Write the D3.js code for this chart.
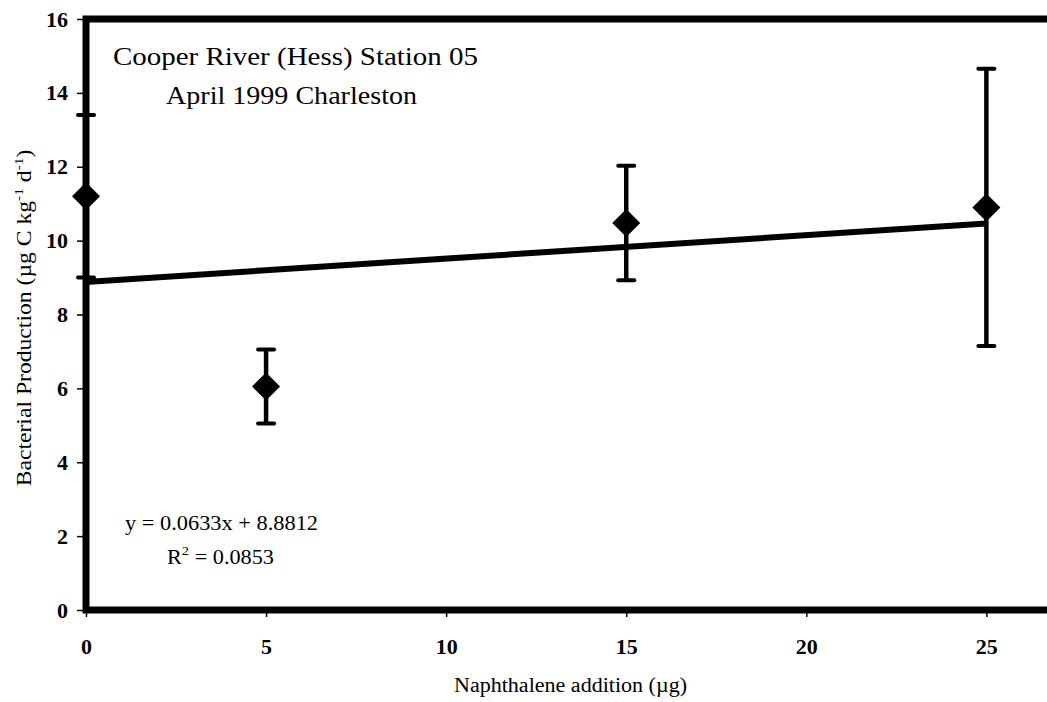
<!DOCTYPE html>
<html>
<head>
<meta charset="utf-8">
<script src="https://cdn.jsdelivr.net/npm/d3@7"></script>
<style>
  html, body { margin: 0; padding: 0; background: #fff; }
  svg { display: block; }
  text { font-family: "Liberation Serif", "Times New Roman", serif; fill: #000; }
</style>
</head>
<body>
<svg id="chart" width="1047" height="702"></svg>
<script>
// Naphthalene additions (µg) and bacterial production means with error half-widths
const additions   = [0, 5, 15, 25];
const production  = [11.2, 6.05, 10.48, 10.9];
const errorHalf   = [2.2, 1.0, 1.55, 3.75];

const xTicks = [0, 5, 10, 15, 20, 25];
const yTicks = [0, 2, 4, 6, 8, 10, 12, 14, 16];

// Linear fit reported on the chart
const fitSlope = 0.0633;
const fitIntercept = 8.8812;
const fitRange = [0, 25];

const svg = d3.select("#chart");
const plot = { left: 86, right: 1062, top: 19, bottom: 610 };

const x = d3.scaleLinear().domain([0, 27.1]).range([plot.left, plot.right]);
const y = d3.scaleLinear().domain([0, 16]).range([plot.bottom, plot.top]);

// Stretch a text element horizontally (in its own frame) to a target width
function fitWidth(sel, width, base) {
  const w = sel.node().getComputedTextLength();
  sel.attr("transform", `${base} scale(${width / w},1)`);
}

// Tick marks and labels
const yAxis = svg.append("g").attr("transform", `translate(${plot.left},0)`)
  .call(d3.axisLeft(y).tickValues(yTicks).tickSize(9).tickPadding(9).tickFormat(d3.format("d")));
const xAxis = svg.append("g").attr("transform", `translate(0,${plot.bottom})`)
  .call(d3.axisBottom(x).tickValues(xTicks).tickSize(7).tickPadding(21).tickFormat(d3.format("d")));
[yAxis, xAxis].forEach(g => {
  g.select(".domain").remove();
  g.selectAll("line").attr("stroke", "#000").attr("stroke-width", 1.5);
  g.selectAll("text").style("font-size", "22px").style("font-weight", "bold");
});

// Plot frame (left, top and bottom edges)
svg.append("path")
  .attr("d", `M${plot.right},${plot.top}H${plot.left}V${plot.bottom}H${plot.right}`)
  .attr("fill", "none").attr("stroke", "#000").attr("stroke-width", 7)
  .attr("stroke-linejoin", "miter");

// Trend line
svg.append("line")
  .attr("x1", x(fitRange[0])).attr("y1", y(fitSlope * fitRange[0] + fitIntercept))
  .attr("x2", x(fitRange[1])).attr("y2", y(fitSlope * fitRange[1] + fitIntercept))
  .attr("stroke", "#000").attr("stroke-width", 6);

// Error bars
const bars = svg.append("g").selectAll("g").data(additions).join("g");
bars.append("line")
  .attr("x1", d => x(d)).attr("x2", d => x(d))
  .attr("y1", (d, i) => y(production[i] + errorHalf[i]))
  .attr("y2", (d, i) => y(production[i] - errorHalf[i]))
  .attr("stroke", "#000").attr("stroke-width", 4.5);
[1, -1].forEach(s => {
  bars.append("line")
    .attr("x1", d => x(d) - 8).attr("x2", d => x(d) + 8)
    .attr("y1", (d, i) => y(production[i] + s * errorHalf[i]))
    .attr("y2", (d, i) => y(production[i] + s * errorHalf[i]))
    .attr("stroke", "#000").attr("stroke-width", 4).attr("stroke-linecap", "round");
});

// Diamond markers
svg.append("g").selectAll("path").data(additions).join("path")
  .attr("transform", (d, i) => `translate(${x(d)},${y(production[i])})`)
  .attr("d", "M0,-14L14,0L0,14L-14,0Z")
  .attr("fill", "#000");

// Station annotation
svg.append("text").attr("x", 113).attr("y", 65)
  .attr("font-size", 26).attr("textLength", 365).attr("lengthAdjust", "spacingAndGlyphs")
  .text("Cooper River (Hess) Station 05");
svg.append("text").attr("x", 166).attr("y", 104)
  .attr("font-size", 26).attr("textLength", 251).attr("lengthAdjust", "spacingAndGlyphs")
  .text("April 1999 Charleston");

// Fit equation
svg.append("text").attr("x", 125).attr("y", 530)
  .attr("font-size", 20).attr("textLength", 193).attr("lengthAdjust", "spacingAndGlyphs")
  .text("y = 0.0633x + 8.8812");
const r2 = svg.append("text").attr("font-size", 20);
r2.append("tspan").text("R");
r2.append("tspan").attr("font-size", 13).attr("dy", -9).text("2");
r2.append("tspan").attr("dy", 9).text(" = 0.0853");
fitWidth(r2, 107, "translate(167,564)");

// Axis titles
svg.append("text").attr("x", 454).attr("y", 692)
  .attr("font-size", 20).attr("textLength", 233).attr("lengthAdjust", "spacingAndGlyphs")
  .text("Naphthalene addition (µg)");
const yt = svg.append("text").attr("text-anchor", "middle").attr("font-size", 20);
yt.append("tspan").text("Bacterial Production (µg C kg");
yt.append("tspan").attr("font-size", 13).attr("dy", -8).text("-1");
yt.append("tspan").attr("dy", 8).text(" d");
yt.append("tspan").attr("font-size", 13).attr("dy", -8).text("-1");
yt.append("tspan").attr("dy", 8).text(")");
fitWidth(yt, 337, "translate(31,318) rotate(-90)");
</script>
</body>
</html>
